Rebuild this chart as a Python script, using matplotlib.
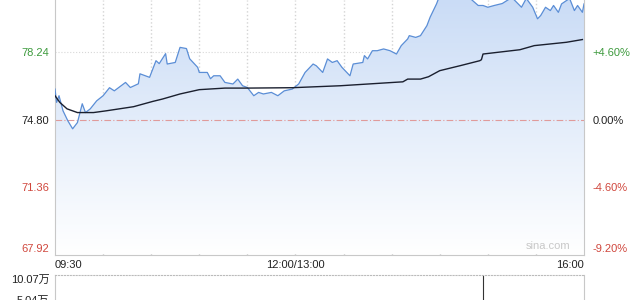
import numpy as np
import matplotlib.pyplot as plt
from matplotlib.patches import Polygon

plt.rcParams['font.family'] = ['Liberation Sans', 'Noto Sans CJK SC', 'DejaVu Sans']

# 分时数据 (分钟: 09:30 起, 12:00/13:00 合并, 共 330 分钟)
price_min = [0, 1, 2.5, 5, 8, 11, 14, 17, 19, 22, 26, 30, 34, 37, 44, 47, 52, 53, 59, 63,
             65, 69, 70, 75, 78, 82, 84, 89, 90, 95, 97, 99, 103, 106, 111, 114, 117, 120,
             124, 127, 130, 135, 139, 143, 148, 152, 156, 161, 163, 167, 170, 173, 176,
             179, 184, 186, 192, 193, 195, 198, 201, 205, 209, 213, 216, 220, 221, 225,
             228, 232, 234, 235, 238, 240, 243, 248, 253, 259, 264, 267, 270, 274, 279,
             285, 291, 294, 298, 301, 303, 306, 309, 311, 314, 316, 321, 324, 326, 329, 330]
price = [76.37, 75.69, 76.03, 75.26, 74.75, 74.34, 74.66, 75.62, 75.17, 75.36, 75.77, 76.03,
         76.44, 76.28, 76.71, 76.45, 76.64, 77.15, 76.97, 77.82, 77.67, 78.18, 77.65, 77.73,
         78.50, 78.44, 77.92, 77.48, 77.22, 77.22, 76.90, 77.05, 77.05, 76.71, 76.63, 76.88,
         76.54, 76.45, 76.03, 76.20, 76.12, 76.20, 76.03, 76.28, 76.37, 76.63, 77.22, 77.65,
         77.56, 77.22, 77.91, 77.73, 77.82, 77.48, 77.05, 77.65, 77.73, 78.08, 77.91, 78.33,
         78.33, 78.42, 78.33, 78.16, 78.59, 78.93, 79.10, 79.01, 79.10, 79.61, 80.04, 80.21,
         80.72, 81.15, 81.40, 81.05, 81.30, 81.00, 80.64, 80.64, 80.55, 80.64, 80.74, 81.05,
         80.55, 81.00, 80.55, 79.96, 80.13, 80.55, 80.38, 80.64, 80.29, 80.72, 81.00, 80.38,
         80.64, 80.29, 80.72]

avg_min = [0, 3, 7.5, 14, 24, 32, 49, 61, 67, 78, 90, 106, 120, 148, 178, 211, 217, 220,
           228, 233, 240, 253, 265, 266, 267, 290, 299, 319, 329]
avg = [76.03, 75.69, 75.36, 75.17, 75.17, 75.26, 75.47, 75.74, 75.86, 76.12, 76.34, 76.42,
       76.42, 76.44, 76.54, 76.71, 76.74, 76.88, 76.88, 77.00, 77.31, 77.57, 77.82, 77.87,
       78.16, 78.38, 78.59, 78.76, 78.90]

vol_min = [267]
vol = [100700]

prev_close = 74.80
left_ticks = [67.92, 71.36, 74.80, 78.24]
left_labels = ['67.92', '71.36', '74.80', '78.24']
right_labels = ['-9.20%', '-4.60%', '0.00%', '+4.60%']
tick_colors = ['#d0473d', '#d0473d', '#222222', '#3d9a3d']
x_ticks = [0, 150, 330]
x_labels = ['09:30', '12:00/13:00', '16:00']
vol_ticks = [50350, 100700]
vol_labels = ['5.04万', '10.07万']

fig = plt.figure(figsize=(6.4, 3.0), dpi=100)
ax = fig.add_axes([55 / 640, 1 - 254.5 / 300, 529 / 640, 254.5 / 300])
ax.set_xlim(0, 330)
ax.set_ylim(67.92, 80.92)

# 渐变填充
grad = np.linspace(0, 1, 256).reshape(-1, 1)
img = ax.imshow(grad, extent=[0, 330, 67.92, 80.92], aspect='auto', origin='lower',
                cmap=plt.matplotlib.colors.LinearSegmentedColormap.from_list(
                    'g', ['#ffffff', '#cadcf6']), zorder=1)
poly = Polygon(list(zip([0] + price_min + [330], [67.92] + price + [67.92])),
               closed=True, facecolor='none', edgecolor='none')
ax.add_patch(poly)
img.set_clip_path(poly)

ax.plot(price_min, price, color='#5b8ed6', lw=0.9, zorder=3)
ax.plot(avg_min, avg, color='#1a1f2e', lw=1.0, zorder=4)
ax.axhline(prev_close, color='#e09a9a', lw=0.8, ls=(0, (6, 2, 1, 2)), zorder=2)

for t in [78.24, 71.36]:
    ax.axhline(t, color='#d8d8d8', lw=0.8, ls=':', zorder=0.5)
for m in range(30, 330, 30):
    ax.axvline(m, color='#d4d4d4', lw=1.0, ls=':', zorder=0.5)

ax.spines['top'].set_visible(False)
for s in ['left', 'bottom', 'right']:
    ax.spines[s].set_color('#c8c8c8')
    ax.spines[s].set_linewidth(0.8)

ax.set_yticks(left_ticks)
ax.set_yticklabels(left_labels, fontsize=8)
ax.tick_params(axis='y', length=0, pad=4)
for lab, c in zip(ax.get_yticklabels(), tick_colors):
    lab.set_color(c)
ax.get_yticklabels()[0].set_va('bottom')

ax2 = ax.twinx()
ax2.set_ylim(ax.get_ylim())
ax2.set_yticks(left_ticks)
ax2.set_yticklabels(right_labels, fontsize=8)
ax2.tick_params(axis='y', length=0, pad=6)
for lab, c in zip(ax2.get_yticklabels(), tick_colors):
    lab.set_color(c)
ax2.get_yticklabels()[0].set_va('bottom')
for s in ax2.spines.values():
    s.set_visible(False)

ax.set_xticks(x_ticks)
ax.set_xticklabels(x_labels, fontsize=8, color='#222222')
ax.tick_params(axis='x', length=0, pad=4)
ax.get_xticklabels()[0].set_ha('left')
ax.get_xticklabels()[2].set_ha('right')

ax.text(0.975, 0.012, 'sina.com', transform=ax.transAxes, ha='right', va='bottom',
        fontsize=8, color='#c8c8c8')

# 成交量
axv = fig.add_axes([55 / 640, -25 / 300, 529 / 640, 50 / 300])
axv.set_xlim(0, 330)
axv.set_ylim(0, 100700)
axv.bar(vol_min, vol, width=0.6, color='#333333', edgecolor='#333333', linewidth=0.8)
axv.set_xticks([])
axv.set_yticks(vol_ticks)
axv.set_yticklabels(vol_labels, fontsize=8, color='#222222')
axv.tick_params(axis='y', length=0, pad=4)
axv.get_yticklabels()[1].set_va('top')
axv.spines['top'].set_linestyle(':')
axv.spines['top'].set_color('#bbbbbb')
for s in ['left', 'right']:
    axv.spines[s].set_color('#c8c8c8')
    axv.spines[s].set_linewidth(0.8)
axv.spines['bottom'].set_visible(False)

fig.savefig('out.png', dpi=100)
